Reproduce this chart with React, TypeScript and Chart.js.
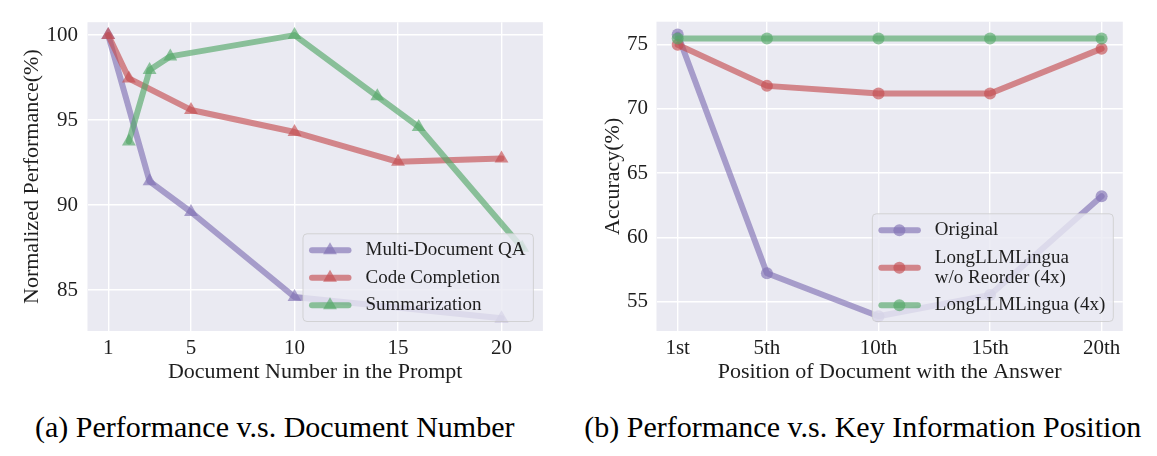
import React, { useEffect, useRef } from "react";
import { Chart, registerables } from "chart.js";

Chart.register(...registerables);

const FONT = "'Liberation Serif', 'Times New Roman', 'DejaVu Serif', serif";

// ---------- Left chart: Performance vs Document Number ----------
const docTicks = [1, 5, 10, 15, 20];
const perfTicks = [85, 90, 95, 100];
const mdqaX = [1, 3, 5, 10, 20];
const mdqaY = [100, 91.4, 89.6, 84.6, 83.35];
const codeX = [1, 2, 5, 10, 15, 20];
const codeY = [100, 97.45, 95.6, 94.3, 92.55, 92.75];
const summX = [2, 3, 4, 10, 14, 16, 21];
const summY = [93.75, 97.95, 98.75, 100, 96.4, 94.6, 87.5];
const leftLabels = ["Multi-Document QA", "Code Completion", "Summarization"];

// ---------- Right chart: Performance vs Key Information Position ----------
const positions = [1, 5, 10, 15, 20];
const positionLabels = ["1st", "5th", "10th", "15th", "20th"];
const accTicks = [55, 60, 65, 70, 75];
const originalAcc = [75.8, 57.2, 53.85, 55.5, 63.2];
const noReorderAcc = [75.0, 71.8, 71.2, 71.2, 74.7];
const longLLMAcc = [75.5, 75.5, 75.5, 75.5, 75.5];
const rightLabels = [["Original"], ["LongLLMLingua", "w/o Reorder (4x)"], ["LongLLMLingua (4x)"]];

const PURPLE = "rgba(129,114,179,0.65)";
const RED = "rgba(196,78,82,0.65)";
const GREEN = "rgba(85,168,104,0.65)";
const TEXT = "#1e1e1e";
const BG = "#EAEAF2";

type LegendItem = { lines: string[]; color: string; style: "triangle" | "circle"; r: number };

function drawMarker(ctx: CanvasRenderingContext2D, style: string, x: number, y: number, r: number) {
  ctx.beginPath();
  if (style === "circle") {
    ctx.arc(x, y, r, 0, Math.PI * 2);
  } else {
    let rad = 0;
    ctx.moveTo(x + Math.sin(rad) * r, y - Math.cos(rad) * r);
    rad += (2 * Math.PI) / 3;
    ctx.lineTo(x + Math.sin(rad) * r, y - Math.cos(rad) * r);
    rad += (2 * Math.PI) / 3;
    ctx.lineTo(x + Math.sin(rad) * r, y - Math.cos(rad) * r);
    ctx.closePath();
  }
  ctx.fill();
}

const bgPlugin = {
  id: "plotBg",
  beforeDraw(chart: any) {
    const { ctx, chartArea } = chart;
    ctx.save();
    ctx.fillStyle = BG;
    ctx.fillRect(chartArea.left, chartArea.top, chartArea.right - chartArea.left, chartArea.bottom - chartArea.top);
    ctx.restore();
  },
};

function makeLegendPlugin(items: LegendItem[]) {
  return {
    id: "innerLegend",
    afterDatasetsDraw(chart: any) {
      const ctx: CanvasRenderingContext2D = chart.ctx;
      const ca = chart.chartArea;
      ctx.save();
      ctx.font = `19px ${FONT}`;
      const lineH = 20;
      const gap = 7.5;
      const pad = 2.6;
      let maxW = 0;
      items.forEach((it) => it.lines.forEach((l) => (maxW = Math.max(maxW, ctx.measureText(l).width))));
      const textX = 62.5;
      const w = textX + maxW + 8;
      const h = pad * 2 + items.reduce((s, it) => s + it.lines.length * lineH + gap, 0);
      const right = ca.right - 9.5;
      const bottom = ca.bottom - 9.5;
      const left = right - w;
      const top = bottom - h;
      const rr = 4;
      ctx.beginPath();
      ctx.moveTo(left + rr, top);
      ctx.lineTo(right - rr, top);
      ctx.quadraticCurveTo(right, top, right, top + rr);
      ctx.lineTo(right, bottom - rr);
      ctx.quadraticCurveTo(right, bottom, right - rr, bottom);
      ctx.lineTo(left + rr, bottom);
      ctx.quadraticCurveTo(left, bottom, left, bottom - rr);
      ctx.lineTo(left, top + rr);
      ctx.quadraticCurveTo(left, top, left + rr, top);
      ctx.closePath();
      ctx.fillStyle = "rgba(234,234,242,0.8)";
      ctx.fill();
      ctx.strokeStyle = "rgba(204,204,204,0.8)";
      ctx.lineWidth = 1;
      ctx.stroke();

      let y = top + pad;
      items.forEach((it) => {
        const rowH = it.lines.length * lineH + gap;
        const cy = y + rowH / 2;
        ctx.strokeStyle = it.color;
        ctx.lineWidth = 6;
        ctx.lineCap = "round";
        ctx.beginPath();
        ctx.moveTo(left + 9, cy);
        ctx.lineTo(left + 45.5, cy);
        ctx.stroke();
        ctx.fillStyle = it.color;
        drawMarker(ctx, it.style, left + 27, cy, it.r);
        ctx.fillStyle = TEXT;
        ctx.textBaseline = "middle";
        ctx.textAlign = "left";
        const n = it.lines.length;
        it.lines.forEach((l, k) => {
          ctx.fillText(l, left + textX, cy - ((n - 1) * lineH) / 2 + k * lineH);
        });
        y += rowH;
      });
      ctx.restore();
    },
  };
}

function fixedTicks(values: number[]) {
  return (scale: any) => {
    scale.ticks = values.map((v) => ({ value: v }));
  };
}

function baseOptions(opts: {
  xMin: number; xMax: number; yMin: number; yMax: number;
  xTicks: number[]; yTicks: number[]; xFmt: (v: number) => string;
  xTitle: string; yTitle: string; yAxisW: number; yTitlePad: number; yTickPad: number;
  padRight: number;
}) {
  return {
    responsive: false,
    animation: false as const,
    events: [],
    layout: { padding: { left: 0, top: 21.7, right: opts.padRight, bottom: 0 } },
    plugins: { legend: { display: false }, tooltip: { enabled: false } },
    scales: {
      x: {
        type: "linear" as const,
        min: opts.xMin,
        max: opts.xMax,
        afterBuildTicks: fixedTicks(opts.xTicks),
        afterFit: (s: any) => { s.height = 69; },
        grid: { color: "#ffffff", lineWidth: 1.4, drawTicks: false },
        border: { display: false },
        ticks: {
          padding: 5,
          color: TEXT,
          font: { family: FONT, size: 21 },
          maxRotation: 0,
          autoSkip: false,
          callback: (v: any) => opts.xFmt(Number(v)),
        },
        title: {
          display: true,
          text: opts.xTitle,
          color: TEXT,
          font: { family: FONT, size: 22 },
          padding: { top: 0, bottom: 15 },
        },
      },
      y: {
        type: "linear" as const,
        min: opts.yMin,
        max: opts.yMax,
        afterBuildTicks: fixedTicks(opts.yTicks),
        afterFit: (s: any) => { s.width = opts.yAxisW; },
        grid: { color: "#ffffff", lineWidth: 1.4, drawTicks: false },
        border: { display: false },
        ticks: {
          padding: opts.yTickPad,
          color: TEXT,
          font: { family: FONT, size: 21 },
          callback: (v: any) => String(v),
        },
        title: {
          display: true,
          text: opts.yTitle,
          color: TEXT,
          font: { family: FONT, size: 22 },
          padding: { top: opts.yTitlePad, bottom: 0 },
        },
      },
    },
  };
}

function lineDs(label: string, xs: number[], ys: number[], color: string, style: string, r: number, order: number) {
  return {
    label,
    data: xs.map((x, i) => ({ x, y: ys[i] })),
    borderColor: color,
    backgroundColor: color,
    borderWidth: 6,
    borderCapStyle: "round" as const,
    borderJoinStyle: "round" as const,
    pointStyle: style,
    pointRadius: r,
    pointBorderWidth: 0,
    pointBackgroundColor: color,
    tension: 0,
    order,
  };
}

function LeftChart() {
  const ref = useRef<HTMLCanvasElement>(null);
  useEffect(() => {
    if (!ref.current) return;
    const chart = new Chart(ref.current, {
      type: "line",
      data: {
        datasets: [
          lineDs(leftLabels[0], mdqaX, mdqaY, PURPLE, "triangle", 8, 3),
          lineDs(leftLabels[1], codeX, codeY, RED, "triangle", 8, 2),
          lineDs(leftLabels[2], summX, summY, GREEN, "triangle", 8, 1),
        ] as any,
      },
      options: baseOptions({
        xMin: 0, xMax: 22, yMin: 82.6, yMax: 100.76,
        xTicks: docTicks, yTicks: perfTicks, xFmt: (v) => String(v),
        xTitle: "Document Number in the Prompt", yTitle: "Normalized Performance(%)",
        yAxisW: 87.5, yTitlePad: 18.8, yTickPad: 9.6, padRight: 17.1,
      }) as any,
      plugins: [
        bgPlugin,
        makeLegendPlugin([
          { lines: [leftLabels[0]], color: PURPLE, style: "triangle", r: 8 },
          { lines: [leftLabels[1]], color: RED, style: "triangle", r: 8 },
          { lines: [leftLabels[2]], color: GREEN, style: "triangle", r: 8 },
        ]),
      ],
    });
    return () => chart.destroy();
  }, []);
  return <canvas ref={ref} width={560} height={400} style={{ position: "absolute", left: 0, top: 0, width: 560, height: 400 }} />;
}

function RightChart() {
  const ref = useRef<HTMLCanvasElement>(null);
  useEffect(() => {
    if (!ref.current) return;
    const chart = new Chart(ref.current, {
      type: "line",
      data: {
        datasets: [
          lineDs(rightLabels[0].join(" "), positions, originalAcc, PURPLE, "circle", 6, 3),
          lineDs(rightLabels[1].join(" "), positions, noReorderAcc, RED, "circle", 6, 2),
          lineDs(rightLabels[2].join(" "), positions, longLLMAcc, GREEN, "circle", 6, 1),
        ] as any,
      },
      options: baseOptions({
        xMin: 0.05, xMax: 20.95, yMin: 52.7, yMax: 76.8,
        xTicks: positions, yTicks: accTicks,
        xFmt: (v) => positionLabels[positions.indexOf(v)] ?? "",
        xTitle: "Position of Document with the Answer", yTitle: "Accuracy(%)",
        yAxisW: 76.5, yTitlePad: 19.8, yTickPad: 8.5, padRight: 17.2,
      }) as any,
      plugins: [
        bgPlugin,
        makeLegendPlugin([
          { lines: rightLabels[0], color: PURPLE, style: "circle", r: 6 },
          { lines: rightLabels[1], color: RED, style: "circle", r: 6 },
          { lines: rightLabels[2], color: GREEN, style: "circle", r: 6 },
        ]),
      ],
    });
    return () => chart.destroy();
  }, []);
  return <canvas ref={ref} width={560} height={400} style={{ position: "absolute", left: 580, top: 0, width: 560, height: 400 }} />;
}

const captionStyle: React.CSSProperties = {
  position: "absolute",
  top: 409,
  width: 640,
  height: 36,
  lineHeight: "36px",
  textAlign: "center",
  fontFamily: FONT,
  fontSize: 30,
  color: "#000",
  whiteSpace: "nowrap",
};

export default function App() {
  return (
    <div style={{ position: "absolute", left: 0, top: 0, width: 1157, height: 456, background: "#fff", overflow: "hidden" }}>
      <LeftChart />
      <RightChart />
      <div style={{ ...captionStyle, left: 274.7 - 320 }}>(a) Performance v.s. Document Number</div>
      <div style={{ ...captionStyle, left: 862.8 - 320 }}>(b) Performance v.s. Key Information Position</div>
    </div>
  );
}
